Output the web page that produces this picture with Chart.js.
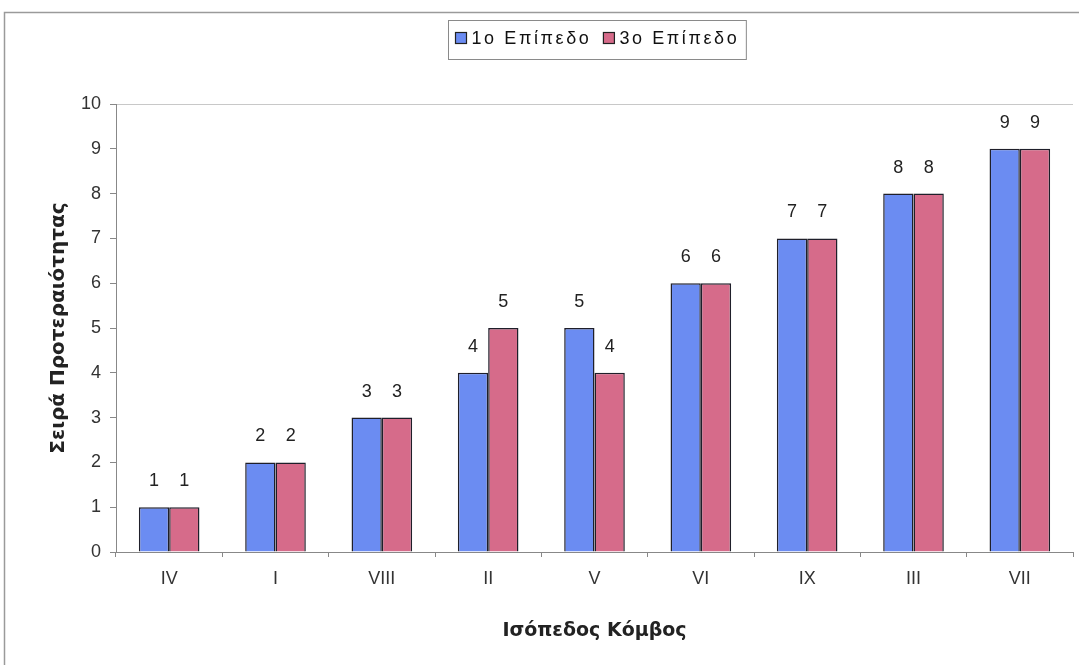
<!DOCTYPE html>
<html>
<head>
<meta charset="utf-8">
<script src="https://cdn.jsdelivr.net/npm/chart.js@4/dist/chart.umd.min.js"></script>
<style>
  html, body { margin: 0; padding: 0; background: #ffffff; }
  #wrap { width: 1079px; height: 665px; position: relative; }
</style>
</head>
<body>
<div id="wrap"><canvas id="c" width="1079" height="665"></canvas></div>
<script>
// Junction categories, ordered by priority
const categories = ['IV', 'I', 'VIII', 'II', 'V', 'VI', 'IX', 'III', 'VII'];
// Priority rank for each level
const level1 = [1, 2, 3, 4, 5, 6, 7, 8, 9];
const level3 = [1, 2, 3, 5, 4, 6, 7, 8, 9];
const seriesNames = ['1ο Επίπεδο', '3ο Επίπεδο'];
const yTicks = [0, 1, 2, 3, 4, 5, 6, 7, 8, 9, 10];

const FONT = "'Liberation Sans', Arial, sans-serif";
const TITLE_FONT = "'DejaVu Sans', Verdana, sans-serif";
const BLUE = '#6b8cf2';
const PINK = '#d66b8a';

// Outer frame lines
const framePlugin = {
  id: 'frame',
  beforeDraw(chart) {
    const ctx = chart.ctx;
    ctx.save();
    ctx.fillStyle = '#ffffff';
    ctx.fillRect(0, 0, chart.width, chart.height);
    ctx.strokeStyle = '#9a9a9a';
    ctx.lineWidth = 1.5;
    ctx.beginPath();
    ctx.moveTo(4.5, chart.height);
    ctx.lineTo(4.5, 12.5);
    ctx.lineTo(chart.width, 12.5);
    ctx.stroke();
    ctx.restore();
  }
};

// Boxed legend at the top
const boxLegendPlugin = {
  id: 'boxLegend',
  afterDraw(chart) {
    const ctx = chart.ctx;
    ctx.save();
    ctx.font = '18px ' + FONT;
    ctx.textBaseline = 'middle';
    if ('letterSpacing' in ctx) ctx.letterSpacing = '2.6px';
    const sq = 11, gapSq = 5, gapItem = 12, padX = 7;
    const items = chart.data.datasets.map(d => ({
      label: d.label, color: d.backgroundColor, w: ctx.measureText(d.label).width
    }));
    let total = padX * 2;
    items.forEach((it, i) => { total += sq + gapSq + it.w + (i ? gapItem : 0); });
    const cx = 597, top = 20.5, bottom = 59.5, cy = 39;
    let x = Math.round(cx - total / 2) + 0.5;
    ctx.strokeStyle = '#8a8a8a';
    ctx.lineWidth = 1;
    ctx.strokeRect(x, top, total, bottom - top);
    x += padX;
    items.forEach((it, i) => {
      if (i) x += gapItem;
      ctx.fillStyle = it.color;
      ctx.fillRect(x, cy - sq / 2 - 1, sq, sq);
      ctx.strokeStyle = '#222';
      ctx.lineWidth = 1.2;
      ctx.strokeRect(x, cy - sq / 2 - 1, sq, sq);
      x += sq + gapSq;
      ctx.fillStyle = '#111';
      ctx.fillText(it.label, x, cy);
      x += it.w;
    });
    ctx.restore();
  }
};

// Value labels above each bar
const valueLabelPlugin = {
  id: 'valueLabels',
  afterDatasetsDraw(chart) {
    const ctx = chart.ctx;
    ctx.save();
    ctx.font = '18px ' + FONT;
    ctx.fillStyle = '#222';
    ctx.textAlign = 'center';
    ctx.textBaseline = 'middle';
    chart.data.datasets.forEach((ds, di) => {
      chart.getDatasetMeta(di).data.forEach((bar, i) => {
        ctx.fillText(String(ds.data[i]), bar.x, bar.y - 26);
      });
    });
    ctx.restore();
  }
};

new Chart(document.getElementById('c'), {
  type: 'bar',
  data: {
    labels: categories,
    datasets: [
      { label: seriesNames[0], data: level1, backgroundColor: BLUE, borderColor: '#1f1f2a', borderWidth: 1.5 },
      { label: seriesNames[1], data: level3, backgroundColor: PINK, borderColor: '#1f1f2a', borderWidth: 1.5 }
    ]
  },
  options: {
    responsive: false,
    animation: false,
    devicePixelRatio: 1,
    layout: { padding: { top: 104, right: 6, bottom: 0, left: 4 } },
    datasets: { bar: { categoryPercentage: 0.57, barPercentage: 1.0 } },
    plugins: {
      legend: { display: false },
      tooltip: { enabled: false }
    },
    scales: {
      x: {
        afterFit(scale) { scale.height = 113; },
        grid: { offset: true, drawOnChartArea: false, tickLength: 5, tickColor: '#888', lineWidth: 1 },
        border: { color: '#888', width: 1 },
        ticks: { color: '#333', padding: 11, font: { family: FONT, size: 18 } },
        title: {
          display: true, text: 'Ισόπεδος Κόμβος', color: '#222',
          font: { family: TITLE_FONT, size: 19, weight: 'bold' },
          padding: { top: 0, bottom: 23 }
        }
      },
      y: {
        min: 0, max: 10,
        afterFit(scale) { scale.width = 112; },
        afterBuildTicks(scale) { scale.ticks = yTicks.map(v => ({ value: v })); },
        grid: {
          drawOnChartArea: true, tickLength: 6, tickColor: '#888',
          color: c => (c.tick && c.tick.value === 10) ? '#c8c8c8' : 'rgba(0,0,0,0)'
        },
        border: { color: '#888', width: 1 },
        ticks: { color: '#333', padding: 9, font: { family: FONT, size: 18 } },
        title: {
          display: true, text: 'Σειρά Προτεραιότητας', color: '#222',
          font: { family: TITLE_FONT, size: 20, weight: 'bold' },
          padding: { top: 43, bottom: 0 }
        }
      }
    }
  },
  plugins: [framePlugin, boxLegendPlugin, valueLabelPlugin]
});
</script>
</body>
</html>
